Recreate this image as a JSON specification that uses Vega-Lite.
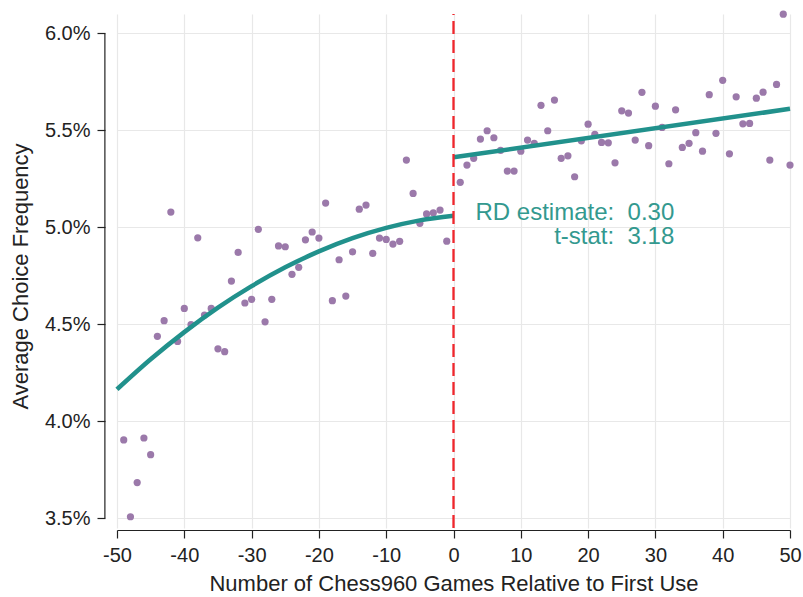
{
  "$schema": "https://vega.github.io/schema/vega-lite/v6.json",
  "width": 673,
  "height": 514,
  "autosize": {"type": "none"},
  "padding": {"left": 117, "top": 14, "right": 13, "bottom": 69},
  "background": "white",
  "config": {
    "view": {"stroke": null},
    "font": "Liberation Sans",
    "axis": {
      "labelFont": "Liberation Sans",
      "titleFont": "Liberation Sans",
      "labelFontSize": 20,
      "titleFontSize": 22,
      "titleFontWeight": "normal",
      "labelColor": "#222222",
      "titleColor": "#222222",
      "domainColor": "#222222",
      "tickColor": "#222222",
      "gridColor": "#e8e8e8",
      "gridWidth": 1.2,
      "domainWidth": 1.2,
      "tickWidth": 1.2
    }
  },
  "datasets": {
    "points": [
      {"games": -49, "freq": 3.904}, {"games": -48, "freq": 3.508}, {"games": -47, "freq": 3.684},
      {"games": -46, "freq": 3.914}, {"games": -45, "freq": 3.828}, {"games": -44, "freq": 4.438},
      {"games": -43, "freq": 4.519}, {"games": -42, "freq": 5.079}, {"games": -41, "freq": 4.412},
      {"games": -40, "freq": 4.582}, {"games": -39, "freq": 4.498}, {"games": -38, "freq": 4.946},
      {"games": -37, "freq": 4.548}, {"games": -36, "freq": 4.582}, {"games": -35, "freq": 4.374},
      {"games": -34, "freq": 4.359}, {"games": -33, "freq": 4.723}, {"games": -32, "freq": 4.871},
      {"games": -31, "freq": 4.610}, {"games": -30, "freq": 4.629}, {"games": -29, "freq": 4.990},
      {"games": -28, "freq": 4.513}, {"games": -27, "freq": 4.629}, {"games": -26, "freq": 4.904},
      {"games": -25, "freq": 4.900}, {"games": -24, "freq": 4.758}, {"games": -23, "freq": 4.794},
      {"games": -22, "freq": 4.936}, {"games": -21, "freq": 4.976}, {"games": -20, "freq": 4.945},
      {"games": -19, "freq": 5.125}, {"games": -18, "freq": 4.622}, {"games": -17, "freq": 4.833},
      {"games": -16, "freq": 4.646}, {"games": -15, "freq": 4.874}, {"games": -14, "freq": 5.094},
      {"games": -13, "freq": 5.115}, {"games": -12, "freq": 4.866}, {"games": -11, "freq": 4.945},
      {"games": -10, "freq": 4.938}, {"games": -9, "freq": 4.914}, {"games": -8, "freq": 4.928},
      {"games": -7, "freq": 5.347}, {"games": -6, "freq": 5.175}, {"games": -5, "freq": 5.021},
      {"games": -4, "freq": 5.069}, {"games": -3, "freq": 5.075}, {"games": -2, "freq": 5.089},
      {"games": -1, "freq": 4.929},
      {"games": 1, "freq": 5.232}, {"games": 2, "freq": 5.321}, {"games": 3, "freq": 5.356},
      {"games": 4, "freq": 5.455}, {"games": 5, "freq": 5.498}, {"games": 6, "freq": 5.462},
      {"games": 7, "freq": 5.397}, {"games": 8, "freq": 5.290}, {"games": 9, "freq": 5.290},
      {"games": 10, "freq": 5.393}, {"games": 11, "freq": 5.450}, {"games": 12, "freq": 5.433},
      {"games": 13, "freq": 5.629}, {"games": 14, "freq": 5.498}, {"games": 15, "freq": 5.656},
      {"games": 16, "freq": 5.356}, {"games": 17, "freq": 5.369}, {"games": 18, "freq": 5.261},
      {"games": 19, "freq": 5.446}, {"games": 20, "freq": 5.532}, {"games": 21, "freq": 5.479},
      {"games": 22, "freq": 5.438}, {"games": 23, "freq": 5.436}, {"games": 24, "freq": 5.333},
      {"games": 25, "freq": 5.601}, {"games": 26, "freq": 5.589}, {"games": 27, "freq": 5.450},
      {"games": 28, "freq": 5.696}, {"games": 29, "freq": 5.421}, {"games": 30, "freq": 5.625},
      {"games": 31, "freq": 5.515}, {"games": 32, "freq": 5.328}, {"games": 33, "freq": 5.606},
      {"games": 34, "freq": 5.412}, {"games": 35, "freq": 5.433}, {"games": 36, "freq": 5.488},
      {"games": 37, "freq": 5.393}, {"games": 38, "freq": 5.684}, {"games": 39, "freq": 5.485},
      {"games": 40, "freq": 5.758}, {"games": 41, "freq": 5.379}, {"games": 42, "freq": 5.673},
      {"games": 43, "freq": 5.534}, {"games": 44, "freq": 5.536}, {"games": 45, "freq": 5.666},
      {"games": 46, "freq": 5.697}, {"games": 47, "freq": 5.347}, {"games": 48, "freq": 5.737},
      {"games": 49, "freq": 6.099}, {"games": 50, "freq": 5.321}
    ],
    "fit": [
      {"side": "before", "games": -50, "freq": 4.165},
      {"side": "before", "games": -45, "freq": 4.320},
      {"side": "before", "games": -40, "freq": 4.460},
      {"side": "before", "games": -35, "freq": 4.586},
      {"side": "before", "games": -30, "freq": 4.697},
      {"side": "before", "games": -25, "freq": 4.794},
      {"side": "before", "games": -20, "freq": 4.876},
      {"side": "before", "games": -15, "freq": 4.944},
      {"side": "before", "games": -10, "freq": 4.997},
      {"side": "before", "games": -5, "freq": 5.036},
      {"side": "before", "games": 0, "freq": 5.060},
      {"side": "after", "games": 0, "freq": 5.361},
      {"side": "after", "games": 50, "freq": 5.611}
    ],
    "cutoff": [{"games": 0}],
    "notes": [{"label": "RD estimate:\u00a0 0.30"}],
    "notes2": [{"label": "t-stat:\u00a0 3.18"}]
  },
  "layer": [
    {
      "data": {"name": "points"},
      "mark": {"type": "circle", "size": 52, "color": "#9b79aa", "opacity": 1},
      "encoding": {
        "x": {
          "field": "games",
          "type": "quantitative",
          "scale": {"domain": [-50, 50], "nice": false, "zero": false},
          "axis": {
            "title": "Number of Chess960 Games Relative to First Use",
            "values": [-50, -45, -40, -35, -30, -25, -20, -15, -10, -5, 0, 5, 10, 15, 20, 25, 30, 35, 40, 45, 50],
            "labelExpr": "datum.value % 10 === 0 ? '' + datum.value : ''",
            "tickSize": {"condition": {"test": "datum.value % 10 === 0", "value": 8}, "value": 4},
            "gridOpacity": {"condition": {"test": "datum.value % 10 === 0", "value": 1}, "value": 0},
            "grid": true,
            "offset": 2,
            "labelPadding": 7,
            "titlePadding": 8,
            "labelFlush": false,
            "labelOverlap": false
          }
        },
        "y": {
          "field": "freq",
          "type": "quantitative",
          "scale": {"domain": [3.45, 6.1], "nice": false, "zero": false},
          "axis": {
            "title": "Average Choice Frequency",
            "values": [3.5, 4.0, 4.5, 5.0, 5.5, 6.0],
            "labelExpr": "format(datum.value, '.1f') + '%'",
            "grid": true,
            "domain": false,
            "tickSize": 8,
            "offset": 12,
            "labelPadding": 7,
            "titlePadding": 12,
            "titleY": 262,
            "labelFlush": false,
            "labelOverlap": false
          }
        }
      }
    },
    {
      "data": {"name": "fit"},
      "mark": {"type": "line", "color": "#21918c", "strokeWidth": 4.5, "interpolate": "monotone", "strokeCap": "butt"},
      "encoding": {
        "x": {"field": "games", "type": "quantitative"},
        "y": {"field": "freq", "type": "quantitative"},
        "detail": {"field": "side"}
      }
    },
    {
      "data": {"name": "cutoff"},
      "mark": {"type": "rule", "color": "#222222", "strokeWidth": 1.2},
      "encoding": {
        "x": {"datum": -51.8},
        "y": {"datum": 3.5},
        "y2": {"datum": 6.0}
      }
    },
    {
      "data": {"name": "cutoff"},
      "mark": {"type": "rule", "color": "#f0262c", "strokeWidth": 2.3, "strokeDash": [13, 6]},
      "encoding": {
        "x": {"field": "games", "type": "quantitative"},
        "y": {"datum": 3.45},
        "y2": {"datum": 6.1}
      }
    },
    {
      "data": {"name": "notes"},
      "mark": {"type": "text", "align": "right", "baseline": "alphabetic", "font": "Liberation Sans", "fontSize": 24, "color": "#33998f"},
      "encoding": {
        "text": {"field": "label"},
        "x": {"datum": 32.8},
        "y": {"datum": 5.038}
      }
    },
    {
      "data": {"name": "notes2"},
      "mark": {"type": "text", "align": "right", "baseline": "alphabetic", "font": "Liberation Sans", "fontSize": 24, "color": "#33998f"},
      "encoding": {
        "text": {"field": "label"},
        "x": {"datum": 32.8},
        "y": {"datum": 4.912}
      }
    }
  ]
}
